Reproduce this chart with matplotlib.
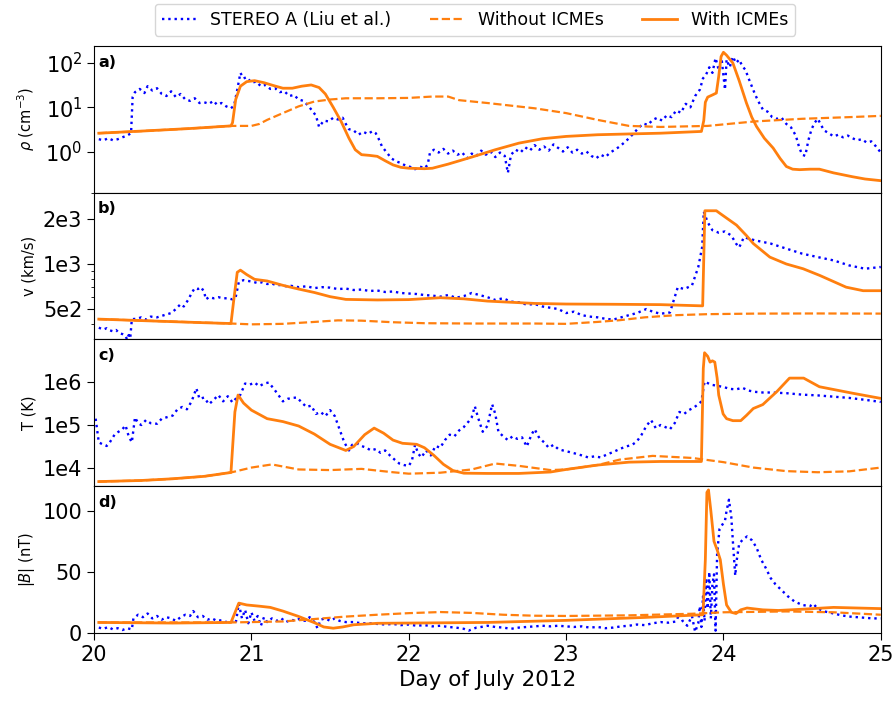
import numpy as np
import matplotlib
matplotlib.use('Agg')
import matplotlib.pyplot as plt
from matplotlib.ticker import FixedLocator, FixedFormatter, NullLocator, NullFormatter

# ---- panel a: density (cm^-3) ----
t_rho_obs = [20.03, 20.06, 20.09, 20.12, 20.15, 20.18, 20.21, 20.235, 20.245, 20.26, 20.29, 20.32, 20.34, 20.37,
             20.40, 20.43, 20.46, 20.49, 20.52, 20.55, 20.58, 20.61, 20.64, 20.67, 20.70, 20.73, 20.76, 20.78,
             20.81, 20.84, 20.87, 20.89, 20.91, 20.93, 20.95, 20.97, 21.00, 21.03, 21.06, 21.09, 21.12, 21.15,
             21.18, 21.21, 21.24, 21.27, 21.30, 21.33, 21.36, 21.39, 21.41, 21.43, 21.46, 21.49, 21.52, 21.55,
             21.58, 21.60, 21.62, 21.65, 21.68, 21.71, 21.74, 21.77, 21.79, 21.81, 21.83, 21.86, 21.89, 21.92,
             21.95, 21.98, 22.01, 22.04, 22.07, 22.10, 22.12, 22.135, 22.16, 22.19, 22.22, 22.25, 22.28, 22.31,
             22.34, 22.37, 22.40, 22.43, 22.46, 22.49, 22.52, 22.55, 22.58, 22.61, 22.63, 22.65, 22.68, 22.71,
             22.74, 22.77, 22.80, 22.83, 22.86, 22.89, 22.92, 22.95, 22.98, 23.01, 23.04, 23.07, 23.10, 23.13,
             23.16, 23.19, 23.22, 23.25, 23.28, 23.31, 23.34, 23.37, 23.40, 23.43, 23.46, 23.49, 23.52, 23.55,
             23.58, 23.61, 23.64, 23.67, 23.70, 23.73, 23.76, 23.79, 23.82, 23.85, 23.87, 23.89, 23.91, 23.93,
             23.95, 23.97, 23.99, 24.01, 24.02, 24.04, 24.06, 24.08, 24.10, 24.12, 24.14, 24.16, 24.18, 24.20,
             24.22, 24.25, 24.28, 24.31, 24.34, 24.37, 24.40, 24.43, 24.46, 24.48, 24.50, 24.52, 24.54, 24.56,
             24.58, 24.60, 24.62, 24.64, 24.67, 24.70, 24.73, 24.76, 24.79, 24.82, 24.85, 24.88, 24.91, 24.94,
             24.97, 25.00]
rho_obs = [1.9, 1.8, 2.0, 1.8, 1.9, 2.1, 2.3, 2.6, 17, 22, 26, 21, 30, 24,
           27, 20, 18, 23, 17, 20, 15, 14, 16, 12.5, 13, 12, 14, 11.5,
           12.5, 10.5, 9.5, 11, 25, 60, 45, 48, 36, 38, 30, 32, 26, 27,
           22, 23, 18, 19, 15, 14, 11, 8, 6.5, 3.6, 5, 4.8, 5.8, 5.3,
           5.8, 4.2, 3.2, 3.0, 2.4, 2.8, 2.5, 2.9, 2.6, 1.9, 1.3, 0.95, 0.7, 0.6,
           0.55, 0.48, 0.45, 0.4, 0.46, 0.42, 0.5, 0.95, 1.1, 0.95, 1.15, 0.9, 1.05, 0.85,
           0.95, 0.7, 0.9, 0.8, 1.05, 0.85, 1.0, 0.75, 0.95, 0.8, 0.33, 0.85, 1.1, 0.95,
           1.25, 1.05, 1.4, 1.1, 1.3, 1.05, 1.45, 1.2, 1.0, 1.25, 0.95, 1.1, 0.9, 1.0,
           0.8, 0.7, 0.85, 0.75, 0.95, 1.1, 1.3, 1.6, 2.0, 2.6, 3.4, 4.3, 4.0, 5.2,
           5.8, 5.0, 6.6, 6.0, 8.5, 7.5, 12, 10, 18, 25, 45, 55, 80, 60,
           130, 70, 110, 25, 120, 80, 140, 100, 120, 85, 70, 45, 30, 20,
           14, 9, 8, 6, 5.5, 5.8, 4.2, 3.5, 2.3, 1.3, 0.85, 0.8, 1.8, 3.2,
           4.5, 5.5, 4.0, 3.0, 2.6, 2.2, 2.4, 2.1, 2.3, 2.0, 1.8, 1.9, 1.6, 1.7,
           1.3, 0.95]

t_rho_with = [20.03, 20.3, 20.6, 20.87, 20.88, 20.90, 20.93, 20.97, 21.02, 21.08, 21.14, 21.20, 21.26, 21.32,
              21.38, 21.43, 21.47, 21.52, 21.57, 21.62, 21.66, 21.70, 21.75, 21.80, 21.85, 21.90, 21.95, 22.0,
              22.1, 22.15, 22.25, 22.4, 22.55, 22.7, 22.85, 23.0, 23.2, 23.4, 23.6, 23.86, 23.875, 23.885,
              23.90, 23.93, 23.955, 23.97, 23.985, 24.0, 24.02, 24.06, 24.10, 24.146, 24.18, 24.21, 24.26, 24.316,
              24.36, 24.40, 24.44, 24.485, 24.55, 24.61, 24.7, 24.82, 24.9, 25.0]
rho_with = [2.6, 2.9, 3.3, 3.8, 4.5, 15, 30, 38, 40, 36, 31, 27, 27, 30,
            32, 28, 20, 10, 4.8, 2.0, 1.1, 0.85, 0.82, 0.78, 0.62, 0.5, 0.44, 0.42,
            0.41, 0.42, 0.52, 0.75, 1.1, 1.55, 1.95, 2.2, 2.4, 2.5, 2.6, 2.85, 5, 13,
            17, 19, 21, 50, 140, 175, 150, 100, 40, 12.6, 6, 3.7, 2.0, 1.2,
            0.7, 0.46, 0.40, 0.39, 0.40, 0.40, 0.33, 0.27, 0.24, 0.22]

t_rho_without = [20.03, 20.3, 20.6, 20.87, 21.0, 21.05, 21.1, 21.2, 21.3, 21.4, 21.5, 21.6, 21.8, 22.0,
                 22.15, 22.25, 22.32, 22.5, 22.8, 23.0, 23.2, 23.4, 23.6, 23.9, 24.2, 24.5, 24.8, 25.0]
rho_without = [2.6, 2.9, 3.3, 3.8, 3.8, 4.2, 5.2, 7.4, 10.5, 13.5, 15, 16, 16, 16.3,
               17.5, 17.5, 14.5, 12.5, 9.5, 7.4, 5.2, 3.8, 3.6, 3.8, 4.8, 5.5, 6.0, 6.4]

# ---- panel b: speed (km/s) ----
t_v_obs = [20.03, 20.06, 20.08, 20.10, 20.12, 20.14, 20.16, 20.18, 20.20, 20.21, 20.22, 20.23, 20.24, 20.27,
           20.30, 20.33, 20.36, 20.40, 20.43, 20.46, 20.49, 20.52, 20.55, 20.57, 20.60, 20.62, 20.64, 20.66,
           20.68, 20.70, 20.71, 20.73, 20.76, 20.79, 20.82, 20.85, 20.88, 20.90, 20.92, 20.95, 20.98, 21.01,
           21.04, 21.07, 21.10, 21.13, 21.16, 21.19, 21.22, 21.25, 21.30, 21.35, 21.40, 21.45, 21.50, 21.55,
           21.60, 21.65, 21.70, 21.75, 21.80, 21.85, 21.90, 21.95, 22.00, 22.05, 22.10, 22.15, 22.20, 22.25,
           22.30, 22.35, 22.40, 22.45, 22.50, 22.55, 22.60, 22.65, 22.70, 22.75, 22.80, 22.85, 22.90, 22.95,
           23.00, 23.05, 23.10, 23.15, 23.20, 23.25, 23.30, 23.35, 23.40, 23.45, 23.51, 23.55, 23.60, 23.66,
           23.71, 23.75, 23.80, 23.84, 23.865, 23.875, 23.90, 23.93, 23.97, 24.01, 24.05, 24.08, 24.10, 24.13,
           24.20, 24.30, 24.40, 24.50, 24.60, 24.70, 24.80, 24.90, 25.00]
v_obs = [375, 365, 372, 360, 355, 362, 345, 340, 330, 312, 335, 320, 428, 430,
         440, 425, 445, 440, 450, 460, 470, 500, 540, 520, 580, 640, 690, 680,
         700, 650, 580, 600, 590, 600, 590, 590, 580, 600, 760, 780, 770, 760,
         745, 755, 735, 740, 720, 725, 710, 715, 700, 710, 690, 700, 695, 680,
         685, 670, 675, 660, 665, 650, 655, 640, 635, 630, 620, 615, 605, 620,
         595, 610, 640, 620, 600, 575, 590, 560, 555, 535, 540, 520, 510, 500,
         470, 480, 455, 445, 440, 430, 425, 440, 455, 470, 500, 480, 465, 474,
         700, 680, 718, 953, 1300, 2240, 1900, 1683, 1620, 1650, 1550, 1370, 1290, 1510,
         1440, 1370, 1267, 1173, 1112, 1057, 978, 930, 955]

t_v_with = [20.03, 20.4, 20.7, 20.87, 20.89, 20.91, 20.93, 20.97, 21.02, 21.1, 21.2, 21.3, 21.4, 21.5,
            21.6, 21.8, 22.0, 22.2, 22.35, 22.5, 22.8, 23.0, 23.3, 23.6, 23.868, 23.882, 23.896, 23.955,
            23.977, 24.083, 24.146, 24.19, 24.295, 24.40, 24.507, 24.613, 24.78, 24.888, 25.0]
v_with = [428, 415, 405, 400, 600, 880, 910, 850, 790, 770, 720, 680, 645, 605,
          580, 575, 578, 595, 585, 565, 545, 540, 538, 535, 525, 2270, 2270, 2270,
          2183, 1820, 1550, 1370, 1112, 1000, 929, 838, 700, 663, 663]

t_v_without = [20.03, 20.87, 21.0, 21.2, 21.4, 21.55, 21.7, 21.9, 22.1, 22.4, 22.8, 23.0, 23.2, 23.34,
               23.5, 23.7, 23.9, 24.2, 24.6, 25.0]
v_without = [428, 400, 395, 398, 410, 420, 418, 408, 402, 400, 400, 398, 410, 421,
             440, 455, 462, 466, 467, 466]

# ---- panel c: temperature (K) ----
t_T_obs = [20.01, 20.03, 20.06, 20.08, 20.10, 20.13, 20.15, 20.18, 20.20, 20.22, 20.24, 20.26, 20.28, 20.30,
           20.33, 20.36, 20.40, 20.43, 20.46, 20.50, 20.53, 20.56, 20.59, 20.62, 20.65, 20.67, 20.70, 20.73,
           20.76, 20.79, 20.82, 20.85, 20.88, 20.90, 20.93, 20.96, 20.99, 21.02, 21.05, 21.08, 21.11, 21.14,
           21.17, 21.20, 21.23, 21.26, 21.29, 21.32, 21.35, 21.38, 21.41, 21.44, 21.47, 21.50, 21.53, 21.56,
           21.59, 21.62, 21.64, 21.67, 21.70, 21.73, 21.76, 21.79, 21.82, 21.85, 21.88, 21.91, 21.94, 21.97,
           22.00, 22.02, 22.04, 22.06, 22.08, 22.11, 22.14, 22.17, 22.20, 22.23, 22.26, 22.29, 22.32, 22.35,
           22.38, 22.40, 22.42, 22.44, 22.47, 22.50, 22.53, 22.55, 22.57, 22.60, 22.63, 22.66, 22.69, 22.72,
           22.75, 22.78, 22.80, 22.83, 22.86, 22.89, 22.92, 22.95, 22.98, 23.02, 23.06, 23.10, 23.14, 23.18,
           23.22, 23.26, 23.30, 23.34, 23.38, 23.42, 23.45, 23.48, 23.51, 23.54, 23.57, 23.60, 23.63, 23.66,
           23.69, 23.72, 23.75, 23.78, 23.81, 23.84, 23.86, 23.88, 23.92, 23.96, 24.00, 24.04, 24.08, 24.12,
           24.16, 24.20, 24.25, 24.30, 24.40, 24.50, 24.60, 24.70, 24.80, 24.90, 25.00]
T_obs = [1.4e5, 4.0e4, 3.5e4, 3.3e4, 4.0e4, 6.0e4, 6.8e4, 8.0e4, 9.8e4, 5.5e4, 4.0e4, 1.5e5, 1.1e5, 1.0e5,
         1.3e5, 1.1e5, 1.07e5, 1.4e5, 1.5e5, 1.65e5, 2.3e5, 2.6e5, 2.3e5, 3.5e5, 7.0e5, 4.0e5, 4.3e5, 3.0e5,
         3.8e5, 4.9e5, 3.5e5, 4.6e5, 3.3e5, 4.0e5, 5.0e5, 9.0e5, 8.5e5, 9.5e5, 7.8e5, 9.0e5, 9.5e5, 7.0e5,
         5.0e5, 3.5e5, 4.0e5, 4.2e5, 4.3e5, 3.3e5, 2.6e5, 2.8e5, 1.8e5, 2.0e5, 1.6e5, 2.2e5, 1.6e5, 8.0e4,
         4.0e4, 2.6e4, 3.5e4, 3.8e4, 3.3e4, 3.0e4, 2.6e4, 2.8e4, 2.3e4, 2.6e4, 2.0e4, 1.6e4, 1.3e4, 1.2e4,
         1.15e4, 1.5e4, 3.5e4, 2.2e4, 1.8e4, 2.6e4, 2.0e4, 3.3e4, 3.0e4, 4.5e4, 6.0e4, 5.5e4, 7.5e4, 9.0e4,
         1.2e5, 1.5e5, 2.7e5, 1.5e5, 7.0e4, 9.5e4, 3.0e5, 1.8e5, 7.0e4, 5.5e4, 4.5e4, 5.5e4, 4.8e4, 5.2e4,
         3.2e4, 6.0e4, 8.0e4, 5.0e4, 4.0e4, 3.0e4, 3.5e4, 2.8e4, 2.6e4, 2.4e4, 2.2e4, 2.0e4, 1.8e4, 1.9e4,
         1.8e4, 2.1e4, 2.4e4, 2.8e4, 3.2e4, 3.5e4, 4.2e4, 6.0e4, 9.5e4, 1.3e5, 8.5e4, 1.0e5, 9.0e4, 8.0e4,
         1.1e5, 2.0e5, 1.8e5, 2.2e5, 2.5e5, 3.0e5, 3.5e5, 1.0e6, 8.5e5, 8.0e5, 7.5e5, 6.8e5, 6.6e5, 7.2e5,
         6.2e5, 5.8e5, 5.6e5, 5.6e5, 5.4e5, 5.0e5, 4.8e5, 4.5e5, 4.2e5, 3.8e5, 3.4e5]

t_T_with = [20.03, 20.3, 20.5, 20.7, 20.87, 20.895, 20.915, 20.95, 21.0, 21.1, 21.2, 21.3, 21.4, 21.5,
            21.6, 21.65, 21.72, 21.78, 21.84, 21.9, 21.96, 22.05, 22.1, 22.16, 22.22, 22.28, 22.35, 22.5,
            22.7, 22.9, 23.0, 23.2, 23.4, 23.6, 23.86, 23.872, 23.88, 23.90, 23.915, 23.93, 23.945, 23.96,
            23.97, 23.998, 24.02, 24.06, 24.11, 24.146, 24.19, 24.25, 24.34, 24.42, 24.51, 24.61, 24.82, 25.0]
T_with = [5000, 5300, 5800, 6600, 8100, 2.0e5, 4.9e5, 3.2e5, 2.2e5, 1.4e5, 1.2e5, 9.5e4, 6.2e4, 3.6e4,
          2.6e4, 3.2e4, 6.0e4, 8.5e4, 6.5e4, 4.5e4, 3.8e4, 3.6e4, 3.0e4, 2.0e4, 1.25e4, 9.0e3, 7.8e3, 7.7e3,
          7.7e3, 8.3e3, 9.5e3, 1.2e4, 1.4e4, 1.45e4, 1.45e4, 2.0e6, 4.6e6, 3.8e6, 2.8e6, 3.0e6, 2.8e6, 1.2e6,
          4.9e5, 1.8e5, 1.4e5, 1.26e5, 1.26e5, 1.66e5, 2.4e5, 2.95e5, 5.9e5, 1.2e6, 1.2e6, 7.6e5, 5.4e5, 4.1e5]

t_T_without = [20.03, 20.3, 20.5, 20.7, 20.87, 21.0, 21.13, 21.3, 21.5, 21.7, 21.9, 22.0, 22.2, 22.4,
               22.55, 22.7, 22.9, 23.0, 23.2, 23.34, 23.55, 23.8, 24.0, 24.19, 24.4, 24.6, 24.8, 25.0]
T_without = [5000, 5300, 5800, 6600, 8100, 1.05e4, 1.24e4, 9.5e3, 9.2e3, 9.8e3, 8.2e3, 7.6e3, 8.0e3, 9.5e3,
             1.3e4, 1.15e4, 9.2e3, 9.5e3, 1.2e4, 1.6e4, 1.95e4, 1.75e4, 1.4e4, 1.05e4, 8.7e3, 8.2e3, 8.6e3, 1.05e4]

# ---- panel d: |B| (nT) ----
t_B_obs = [20.03, 20.06, 20.09, 20.12, 20.15, 20.18, 20.21, 20.24, 20.25, 20.28, 20.31, 20.34, 20.37, 20.40,
           20.43, 20.46, 20.49, 20.52, 20.55, 20.58, 20.61, 20.63, 20.66, 20.69, 20.72, 20.75, 20.78, 20.81,
           20.84, 20.87, 20.90, 20.92, 20.94, 20.96, 20.98, 21.00, 21.02, 21.04, 21.06, 21.08, 21.10, 21.13,
           21.16, 21.19, 21.22, 21.25, 21.28, 21.31, 21.34, 21.37, 21.40, 21.42, 21.44, 21.47, 21.50, 21.53,
           21.56, 21.60, 21.65, 21.70, 21.75, 21.80, 21.85, 21.90, 21.95, 22.00, 22.05, 22.10, 22.15, 22.20,
           22.25, 22.30, 22.35, 22.38, 22.40, 22.43, 22.46, 22.50, 22.55, 22.60, 22.65, 22.70, 22.75, 22.80,
           22.85, 22.90, 22.95, 23.00, 23.05, 23.10, 23.15, 23.20, 23.25, 23.30, 23.35, 23.40, 23.45, 23.50,
           23.55, 23.60, 23.65, 23.70, 23.72, 23.74, 23.77, 23.80, 23.82, 23.84, 23.85, 23.86, 23.87, 23.88,
           23.89, 23.90, 23.91, 23.92, 23.93, 23.94, 23.95, 23.96, 23.975, 23.99, 24.01, 24.02, 24.035, 24.05,
           24.06, 24.075, 24.085, 24.10, 24.12, 24.15, 24.18, 24.21, 24.24, 24.27, 24.30, 24.33, 24.37, 24.41,
           24.45, 24.50, 24.55, 24.57, 24.60, 24.65, 24.70, 24.75, 24.80, 24.85, 24.90, 24.95, 25.00]
B_obs = [4.5, 3.5, 5, 3, 4, 2.5, 4, 3, 12, 15, 13, 16, 12, 14,
         11, 13, 12, 10, 13, 15, 14, 18, 13, 14, 11, 12, 10, 10.5,
         9, 10, 8, 24, 12, 19, 8, 17, 10, 14, 6, 13, 9, 12,
         10, 12, 9, 11, 10, 12, 10, 13, 9, 4, 11, 12, 10, 12,
         10, 9, 9, 8, 8, 7.5, 7, 7.5, 6.5, 7, 6, 6.5, 5.5, 6,
         5, 4.5, 3.5, 2, 3, 4.5, 5, 6, 5, 4.5, 3.5, 4.5, 5, 5.5,
         6, 5.5, 6, 5.5, 5, 5.5, 4.5, 5, 4, 4.5, 5.5, 6, 7, 6.5,
         8, 9, 8.5, 9.5, 16, 10, 6, 14, 1, 8, 22, 5, 30, 10,
         45, 20, 50, 12, 40, 48, 2, 65, 85, 88, 92, 100, 109, 95,
         75, 47, 60, 73, 76, 79, 76, 70, 60, 53, 45, 40, 35, 30,
         26, 23, 22, 24, 20, 17.5, 16, 14.5, 13.5, 13, 12.5, 12, 12]

t_B_with = [20.03, 20.5, 20.87, 20.89, 20.92, 20.97, 21.05, 21.12, 21.2, 21.3, 21.4, 21.46, 21.52, 21.58,
            21.65, 21.8, 22.0, 22.5, 23.0, 23.5, 23.87, 23.885, 23.895, 23.905, 23.92, 23.94, 23.96, 23.98,
            24.0, 24.02, 24.05, 24.08, 24.11, 24.15, 24.25, 24.35, 24.5, 24.7, 25.0]
B_with = [8.7, 8.2, 8.7, 15, 24.5, 23, 22, 21, 18, 13.6, 8.5, 5, 4, 5,
          6.8, 8, 8.2, 8.7, 10.4, 12.8, 15, 60, 115, 117, 100, 75, 68, 60,
          40, 23, 17, 16, 19, 20.5, 19, 18.5, 19.5, 21, 20]

t_B_without = [20.03, 20.87, 21.0, 21.2, 21.4, 21.6, 21.8, 22.0, 22.2, 22.4, 22.6, 22.8, 23.0, 23.4,
               23.8, 24.0, 24.4, 24.7, 25.0]
B_without = [8.7, 8.7, 9, 9.5, 11.5, 13.5, 15, 16.3, 17.2, 16.5, 15, 14.2, 14, 14.5,
             15.8, 17, 17.7, 17, 15]

obs_color = 'blue'
model_color = '#ff7f0e'

fig, axes = plt.subplots(4, 1, sharex=True, figsize=(8.96, 7.05), dpi=100)
fig.subplots_adjust(left=0.105, right=0.983, top=0.935, bottom=0.102, hspace=0)

series = [
    (t_rho_obs, rho_obs, t_rho_without, rho_without, t_rho_with, rho_with),
    (t_v_obs, v_obs, t_v_without, v_without, t_v_with, v_with),
    (t_T_obs, T_obs, t_T_without, T_without, t_T_with, T_with),
    (t_B_obs, B_obs, t_B_without, B_without, t_B_with, B_with),
]
ylabels = [r'$\rho$ (cm$^{-3}$)', 'v (km/s)', 'T (K)', r'$|B|$ (nT)']
panel_tags = ['a)', 'b)', 'c)', 'd)']

for ax, (to, yo, tw0, yw0, tw, yw), lab, tag in zip(axes, series, ylabels, panel_tags):
    ax.plot(to, yo, color=obs_color, linestyle=':', linewidth=1.7, label='STEREO A (Liu et al.)')
    ax.plot(tw0, yw0, color=model_color, linestyle='--', linewidth=1.6, label='Without ICMEs')
    ax.plot(tw, yw, color=model_color, linestyle='-', linewidth=2.0, label='With ICMEs')
    ax.set_ylabel(lab, fontsize=10.5)
    ax.text(0.005, 0.94, tag, transform=ax.transAxes, fontsize=11.5, fontweight='bold', va='top', ha='left')
    ax.tick_params(axis='both', labelsize=15, length=5)

# panel a
axes[0].set_yscale('log')
axes[0].set_ylim(0.118, 245)
axes[0].yaxis.set_major_locator(FixedLocator([1, 10, 100]))
axes[0].yaxis.set_minor_locator(NullLocator())

# panel b
axes[1].set_yscale('log')
axes[1].set_ylim(313, 3000)
axes[1].yaxis.set_major_locator(FixedLocator([500, 1000, 2000]))
axes[1].yaxis.set_major_formatter(FixedFormatter(['5e2', '1e3', '2e3']))
axes[1].yaxis.set_minor_formatter(NullFormatter())

# panel c
axes[2].set_yscale('log')
axes[2].set_ylim(3.9e3, 9.3e6)
axes[2].yaxis.set_major_locator(FixedLocator([1e4, 1e5, 1e6]))
axes[2].yaxis.set_major_formatter(FixedFormatter(['1e4', '1e5', '1e6']))
axes[2].yaxis.set_minor_locator(NullLocator())

# panel d
axes[3].set_ylim(0, 120)
axes[3].set_yticks([0, 50, 100])

for ax in axes[:-1]:
    ax.tick_params(axis='x', bottom=False)

axes[3].set_xlim(20, 25)
axes[3].set_xticks([20, 21, 22, 23, 24, 25])
axes[3].set_xlabel('Day of July 2012', fontsize=15.5)

fig.align_ylabels(axes)

handles, labels = axes[0].get_legend_handles_labels()
fig.legend(handles, labels, loc='upper center', bbox_to_anchor=(0.53, 1.007), ncol=3, fontsize=12.5,
           columnspacing=2.2)

fig.savefig('out.png', dpi=100)
